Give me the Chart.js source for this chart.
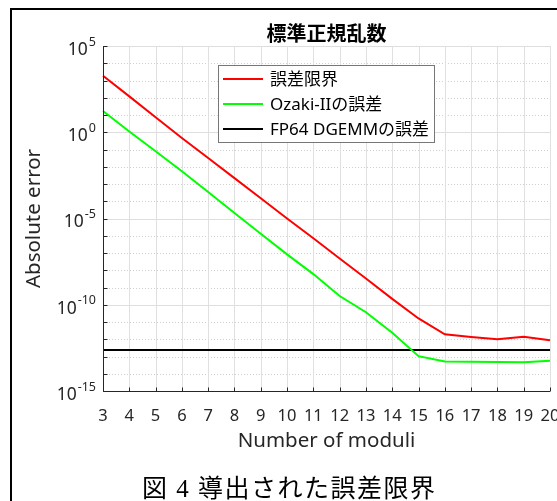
<!DOCTYPE html>
<html>
<head>
<meta charset="utf-8">
<script src="https://cdn.jsdelivr.net/npm/chart.js@4.4.1/dist/chart.umd.min.js"></script>
<style>
  html, body { margin: 0; padding: 0; background: #fff; }
  #wrap { position: relative; width: 557px; height: 501px; overflow: hidden; }
  #frame { position: absolute; left: 10px; top: 8px; width: 700px; height: 700px;
           border-left: 2px solid #000; border-top: 2px solid #000; }
  #fig { position: absolute; left: 0; top: 0; }
  #caption { position: absolute; left: 142px; top: 468px; font-size: 25px; color: #000;
             letter-spacing: 1.5px; font-family: "Liberation Serif", "Noto Sans CJK JP"; white-space: nowrap; }
</style>
</head>
<body>
<div id="wrap">
  <div id="frame"></div>
  <canvas id="fig" width="580" height="501"></canvas>
  <div id="caption">図 4 導出された誤差限界</div>
</div>
<script>
// x: number of moduli
const moduli = [3, 4, 5, 6, 7, 8, 9, 10, 11, 12, 13, 14, 15, 16, 17, 18, 19, 20];

// values
const boundErr = [1.9e3, 1.2e2, 7.4e0, 4.6e-1, 3.2e-2, 2.2e-3, 1.5e-4, 1.0e-5, 7.1e-7,
                  4.8e-8, 3.3e-9, 2.2e-10, 1.6e-11, 1.95e-12, 1.35e-12, 1.0e-12, 1.4e-12, 8.7e-13];
const ozakiErr = [1.7e1, 1.1e0, 7.9e-2, 5.5e-3, 3.4e-4, 2.1e-5, 1.3e-6, 8.3e-8, 6.0e-9,
                  3.2e-10, 3.7e-11, 2.4e-12, 1.05e-13, 5.2e-14, 4.9e-14, 4.8e-14, 4.7e-14, 5.6e-14];
const dgemmErr = [2.35e-13, 2.35e-13, 2.35e-13, 2.35e-13, 2.35e-13, 2.35e-13, 2.35e-13, 2.35e-13, 2.35e-13,
                  2.35e-13, 2.35e-13, 2.35e-13, 2.35e-13, 2.35e-13, 2.35e-13, 2.35e-13, 2.35e-13, 2.35e-13];

const seriesNames = ['誤差限界', 'Ozaki-IIの誤差', 'FP64 DGEMMの誤差'];
const yLabelExps = [5, 0, -5, -10, -15];
const yMin = 1e-15, yMax = 1e5;

const titleText = '標準正規乱数';
const xTitle = 'Number of moduli';
const yTitle = 'Absolute error';

const axisColor = '#262626';

// grid, axes, texts and legend drawn around the library's scales
const figPlugin = {
  id: 'fig',
  beforeDatasetsDraw(chart) {
    const { ctx, chartArea: a, scales: { x, y } } = chart;
    ctx.save();
    ctx.lineWidth = 1;
    // horizontal grid at each decade, solid at labelled ones
    for (let e = -15; e <= 5; e++) {
      const py = Math.round(y.getPixelForValue(Math.pow(10, e))) + 0.5;
      if (yLabelExps.includes(e)) { ctx.setLineDash([]); ctx.strokeStyle = '#dedede'; }
      else { ctx.setLineDash([1, 2]); ctx.strokeStyle = '#cfcfcf'; }
      ctx.beginPath(); ctx.moveTo(a.left, py); ctx.lineTo(a.right, py); ctx.stroke();
    }
    ctx.setLineDash([]);
    ctx.strokeStyle = '#e0e0e0';
    moduli.forEach((m, i) => {
      const px = Math.round(x.getPixelForTick(i)) + 0.5;
      ctx.beginPath(); ctx.moveTo(px, a.top); ctx.lineTo(px, a.bottom); ctx.stroke();
    });
    ctx.restore();
  },
  afterDatasetsDraw(chart) {
    const { ctx, chartArea: a, scales: { x, y } } = chart;
    ctx.save();
    // axes with inward ticks
    ctx.strokeStyle = axisColor;
    ctx.lineWidth = 1;
    const L = Math.round(a.left) + 0.5, B = Math.round(a.bottom) + 0.5;
    ctx.beginPath();
    ctx.moveTo(L, a.top); ctx.lineTo(L, B); ctx.lineTo(a.right, B);
    moduli.forEach((m, i) => {
      const px = Math.round(x.getPixelForTick(i)) + 0.5;
      ctx.moveTo(px, B); ctx.lineTo(px, B - 4);
    });
    for (let e = -15; e <= 5; e++) {
      const py = Math.round(y.getPixelForValue(Math.pow(10, e))) + 0.5;
      ctx.moveTo(L, py); ctx.lineTo(L + 4, py);
    }
    ctx.stroke();

    // y tick labels 10^n
    ctx.fillStyle = axisColor;
    ctx.textBaseline = 'middle';
    ctx.textAlign = 'left';
    yLabelExps.forEach(e => {
      const py = y.getPixelForValue(Math.pow(10, e));
      const sup = e < 0 ? '-' + (-e) : String(e);
      ctx.font = '12.5px "Noto Sans"';
      const ws = ctx.measureText(sup).width;
      ctx.font = '17.5px "Noto Sans"';
      const wb = ctx.measureText('10').width;
      const right = a.left - 7;
      ctx.fillText('10', right - ws - wb - 1, py + 4);
      ctx.font = '12.5px "Noto Sans"';
      ctx.fillText(sup, right - ws, py - 4);
    });

    // titles
    ctx.textAlign = 'center';
    ctx.fillStyle = '#000';
    ctx.font = 'bold 20px "Noto Sans CJK JP"';
    ctx.fillText(titleText, (a.left + a.right) / 2, 33);
    ctx.fillStyle = axisColor;
    ctx.font = '20.5px "Noto Sans"';
    ctx.fillText(xTitle, (a.left + a.right) / 2, 441);
    ctx.save();
    ctx.translate(34, (a.top + a.bottom) / 2);
    ctx.rotate(-Math.PI / 2);
    ctx.fillText(yTitle, 0, 0);
    ctx.restore();

    // legend box
    const bx = 218.5, by = 65.5, bw = 216, bh = 77;
    ctx.fillStyle = '#fff';
    ctx.fillRect(bx, by, bw, bh);
    ctx.strokeStyle = '#777';
    ctx.lineWidth = 1;
    ctx.strokeRect(bx, by, bw, bh);
    ctx.textAlign = 'left';
    ctx.font = '17px "Noto Sans", "Noto Sans CJK JP"';
    chart.data.datasets.forEach((ds, i) => {
      const ly = 79 + i * 25;
      ctx.strokeStyle = ds.borderColor;
      ctx.lineWidth = ds.borderWidth;
      ctx.beginPath(); ctx.moveTo(223, ly); ctx.lineTo(263, ly); ctx.stroke();
      ctx.fillStyle = '#000';
      ctx.fillText(ds.label, 270, ly + 1);
    });
    ctx.restore();
  }
};

new Chart(document.getElementById('fig').getContext('2d'), {
  type: 'line',
  data: {
    labels: moduli,
    datasets: [
      { label: seriesNames[0], data: boundErr, borderColor: '#ff0000', borderWidth: 2 },
      { label: seriesNames[1], data: ozakiErr, borderColor: '#00ff00', borderWidth: 2 },
      { label: seriesNames[2], data: dgemmErr, borderColor: '#000000', borderWidth: 2 }
    ]
  },
  options: {
    responsive: false,
    animation: false,
    layout: { padding: { top: 46, right: 30, left: 0, bottom: 0 } },
    elements: { point: { radius: 0 }, line: { tension: 0, fill: false } },
    plugins: { legend: { display: false }, tooltip: { enabled: false }, title: { display: false } },
    scales: {
      x: {
        type: 'category',
        offset: false,
        grid: { display: false, drawTicks: false },
        border: { display: false },
        ticks: { color: axisColor, font: { family: 'Noto Sans', size: 16.5 }, padding: 15,
                 maxRotation: 0, autoSkip: false },
        afterFit: s => { s.height = 110; }
      },
      y: {
        type: 'logarithmic',
        min: yMin,
        max: yMax,
        grid: { display: false, drawTicks: false },
        border: { display: false },
        ticks: { display: false },
        afterFit: s => { s.width = 103; }
      }
    }
  },
  plugins: [figPlugin]
});
</script>
</body>
</html>
